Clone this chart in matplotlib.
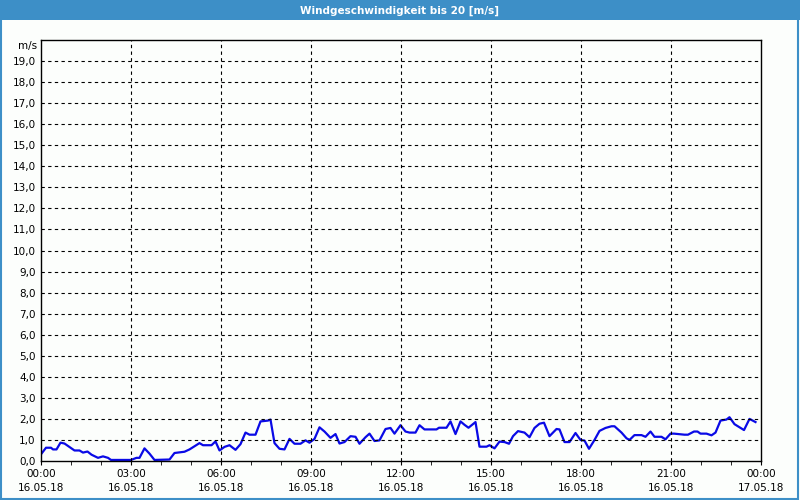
import matplotlib
matplotlib.use('Agg')
import numpy as np
from matplotlib import pyplot as plt, patches

# minutes since 16.05.18 00:00 and wind speed in m/s
minutes = [0, 10, 20, 24, 31, 39, 47, 61, 67, 77, 84, 93, 101, 114, 124, 134, 140, 180,
           191, 197, 207, 217, 227, 257, 267, 281, 287, 297, 307, 317, 324, 341, 349, 357,
           367, 377, 389, 399, 409, 417, 429, 439, 454, 459, 467, 477, 487, 497, 507, 519,
           529, 537, 547, 557, 567, 579, 589, 597, 607, 619, 629, 637, 649, 657, 667, 677,
           689, 699, 707, 719, 729, 737, 749, 757, 767, 791, 796, 811, 819, 829, 839, 847,
           855, 869, 877, 891, 897, 907, 917, 927, 936, 944, 954, 967, 977, 987, 997, 1006,
           1017, 1031, 1037, 1047, 1057, 1069, 1079, 1087, 1096, 1107, 1117, 1129, 1141,
           1147, 1161, 1171, 1177, 1187, 1201, 1209, 1219, 1227, 1241, 1249, 1259, 1266,
           1287, 1294, 1306, 1313, 1319, 1331, 1341, 1349, 1359, 1371, 1377, 1387, 1397,
           1406, 1417, 1429]
speed = [0.32, 0.63, 0.63, 0.55, 0.55, 0.87, 0.83, 0.6, 0.5, 0.5, 0.4, 0.45, 0.3, 0.15,
         0.22, 0.15, 0.05, 0.05, 0.15, 0.15, 0.6, 0.35, 0.05, 0.07, 0.38, 0.42, 0.44, 0.55,
         0.7, 0.85, 0.75, 0.75, 0.93, 0.5, 0.67, 0.75, 0.53, 0.8, 1.35, 1.25, 1.25, 1.88,
         1.92, 1.97, 0.85, 0.58, 0.55, 1.05, 0.82, 0.82, 0.98, 0.87, 1.05, 1.6, 1.4, 1.1,
         1.28, 0.83, 0.9, 1.18, 1.15, 0.82, 1.13, 1.3, 0.95, 0.98, 1.52, 1.57, 1.3, 1.7,
         1.4, 1.35, 1.35, 1.7, 1.5, 1.5, 1.58, 1.58, 1.88, 1.28, 1.88, 1.72, 1.58, 1.85,
         0.68, 0.68, 0.75, 0.6, 0.92, 0.9, 0.82, 1.18, 1.42, 1.35, 1.13, 1.57, 1.77, 1.82,
         1.18, 1.52, 1.5, 0.9, 0.9, 1.33, 1.0, 0.97, 0.58, 1.0, 1.43, 1.57, 1.65, 1.65,
         1.35, 1.08, 1.0, 1.23, 1.23, 1.15, 1.4, 1.15, 1.15, 1.03, 1.3, 1.3, 1.25, 1.25,
         1.4, 1.4, 1.3, 1.3, 1.22, 1.35, 1.92, 1.97, 2.08, 1.75, 1.6, 1.47, 2.0, 1.85]

tick_hours = [0, 3, 6, 9, 12, 15, 18, 21, 24]
tick_labels = ['00:00\n16.05.18', '03:00\n16.05.18', '06:00\n16.05.18', '09:00\n16.05.18',
               '12:00\n16.05.18', '15:00\n16.05.18', '18:00\n16.05.18', '21:00\n16.05.18',
               '00:00\n17.05.18']
y_ticks = list(range(20))
title = 'Windgeschwindigkeit bis 20 [m/s]'

blue_bar = '#3d8fc7'

fig = plt.figure(figsize=(8, 5), dpi=100)
fig.patch.set_facecolor('#fcfefc')

# title bar and window frame
fig.patches.append(patches.Rectangle((0, 0.96), 1, 0.04, transform=fig.transFigure,
                                     facecolor=blue_bar, edgecolor='none'))
fig.patches.append(patches.Rectangle((0.001, 0.002), 0.997, 0.97, transform=fig.transFigure,
                                     facecolor='none', edgecolor=blue_bar, linewidth=1.5))
fig.text(0.5, 0.979, title, ha='center', va='center', color='white',
         fontsize=7.5, fontweight='bold')

ax = fig.add_axes([0.05125, 0.078, 0.9, 0.842])
ax.set_facecolor('#fcfefc')
hours = np.array(minutes) / 60.0
ax.plot(hours, speed, color='#0a0ae6', linewidth=1.6)

ax.set_xlim(0, 24)
ax.set_ylim(0, 20)
ax.set_xticks(tick_hours)
ax.set_xticklabels(tick_labels, fontsize=7.5, linespacing=1.4)
ax.set_xticks(range(25), minor=True)
ax.set_yticks(y_ticks)
ax.set_yticklabels([f'{v},0' for v in y_ticks], fontsize=7.5)
ax.tick_params(axis='y', length=0, pad=4)
ax.tick_params(axis='x', which='major', length=3, pad=3)
ax.tick_params(axis='x', which='minor', length=3)

for h in tick_hours[1:-1]:
    ax.axvline(h, color='black', linewidth=0.8, linestyle=(0, (3, 3)))
for v in range(1, 20):
    ax.axhline(v, color='black', linewidth=0.8, linestyle=(0, (3, 3)))

for sp in ax.spines.values():
    sp.set_linewidth(1.0)

ax.text(-0.005, 0.985, 'm/s', transform=ax.transAxes, ha='right', va='center', fontsize=7.5)

fig.savefig('out.png', dpi=100, facecolor=fig.get_facecolor())
